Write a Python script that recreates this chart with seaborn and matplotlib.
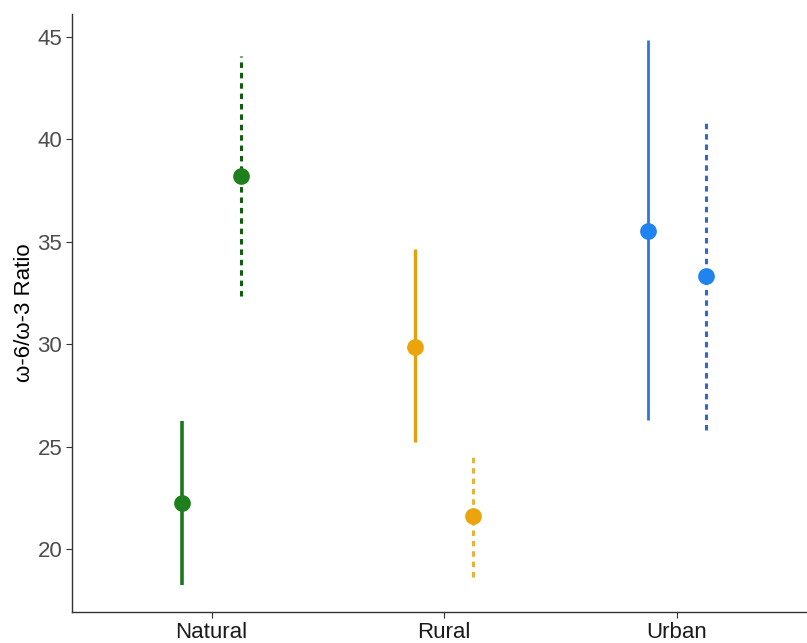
import matplotlib
matplotlib.use("Agg")
import matplotlib.pyplot as plt
import seaborn as sns
import pandas as pd
import numpy as np

categories = ["Natural", "Rural", "Urban"]
groups = ["A", "B"]  # A = solid, B = dashed
mean_a = [22.25, 29.85, 35.53]
low_a = [18.25, 25.2, 26.3]
high_a = [26.25, 34.65, 44.85]
mean_b = [38.2, 21.6, 33.35]
low_b = [32.35, 18.65, 25.8]
high_b = [44.05, 24.5, 40.85]

point_colors = ["#1f7f1f", "#eba40c", "#1f84f0"]
line_colors_a = ["#1c781c", "#e5a012", "#2a78dc"]
line_colors_b = ["#0f5f0f", "#e9b23a", "#3468c8"]
line_widths_a = [2.6, 2.4, 2.0]

sns.set_style("white")
plt.rcParams['font.family'] = ['Liberation Sans', 'DejaVu Sans']

df = pd.DataFrame({
    "cat": categories * 2,
    "grp": ["A"] * 3 + ["B"] * 3,
    "val": mean_a + mean_b,
})

fig = plt.figure(figsize=(8.07, 6.43), dpi=100)
ax = fig.add_axes([72 / 807, 31 / 643, 1 - 72 / 807, (612 - 14) / 643])

off = 0.125
for i, c in enumerate(categories):
    ax.vlines(i - off, low_a[i], high_a[i], color=line_colors_a[i], lw=line_widths_a[i], zorder=2)
    ax.vlines(i + off, low_b[i], high_b[i], color=line_colors_b[i], lw=2.2,
              linestyles=(0, (1.8, 1.6)), zorder=2)

for i, c in enumerate(categories):
    sub = df[df["cat"] == c]
    sns.pointplot(data=sub, x="cat", y="val", hue="grp", order=categories,
                  hue_order=groups, palette=[point_colors[i]] * 2, dodge=0.25,
                  linestyle="none", errorbar=None, markers="o", markersize=10,
                  ax=ax, legend=False, zorder=3)

ax.set_xlim(-0.6, 2.56)
ax.set_ylim(16.92, 46.12)
ax.set_yticks([20, 25, 30, 35, 40, 45])
ax.set_xlabel("")
ax.set_ylabel("ω-6/ω-3 Ratio", fontsize=16, color="black", labelpad=2)
ax.tick_params(axis="both", which="both", length=4, width=0.8, color="#333333",
               labelsize=16, bottom=True, left=True, pad=3)
ax.tick_params(axis="y", labelcolor="#4d4d4d")
ax.tick_params(axis="x", labelcolor="#1a1a1a")
for s in ["top", "right"]:
    ax.spines[s].set_visible(False)
for s in ["left", "bottom"]:
    ax.spines[s].set_color("#333333")
    ax.spines[s].set_linewidth(1.0)

fig.savefig("out.png", dpi=100)
